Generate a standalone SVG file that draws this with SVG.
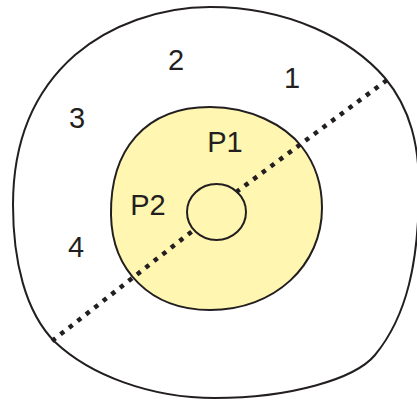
<svg xmlns="http://www.w3.org/2000/svg" width="417" height="400" viewBox="0 0 417 400">
<style>
.ln{fill:none;stroke:#231f20;stroke-width:2}
.dot{fill:none;stroke:#231f20;stroke-width:4.5;stroke-dasharray:4.5 6.3}
.lbl{font-family:"Liberation Sans",Arial,sans-serif;font-size:29px;fill:#231f20;text-anchor:middle}
</style>
<rect width="417" height="400" fill="#ffffff"/>
<g id="outer">
<path class="ln" fill="#ffffff" d="M210,7 C290,7 352,40 385,78 C410,108 420,145 419,195 C418,260 408,315 375,355 C355,379 290,398 215,398 C150,398 90,375 55,342 C25,312 13,260 13,205 C13,140 35,90 75,55 C110,25 160,7 210,7 Z"/>
</g>
<g id="core">
<path class="ln" style="fill:#fff6b1" d="M210,107 C250,107 285,125 302,147 C316,165 322,185 322,208 C322,265 275,310 210,310 C150,310 112,270 111,215 C110,150 145,107 210,107 Z"/>
</g>
<g id="connectors">
<line class="dot" x1="387" y1="80" x2="235" y2="193"/>
<line class="dot" x1="52" y1="341" x2="195" y2="229"/>
</g>
<g id="hole">
<ellipse class="ln" fill="#ffffff" cx="216.5" cy="212" rx="29.5" ry="28"/>
</g>
<g id="labels">
<text class="lbl" x="176" y="70">2</text>
<text class="lbl" x="292" y="88">1</text>
<text class="lbl" x="77" y="128">3</text>
<text class="lbl" x="76" y="257">4</text>
<text class="lbl" x="225" y="152">P1</text>
<text class="lbl" x="148" y="215">P2</text>
</g>
</svg>
